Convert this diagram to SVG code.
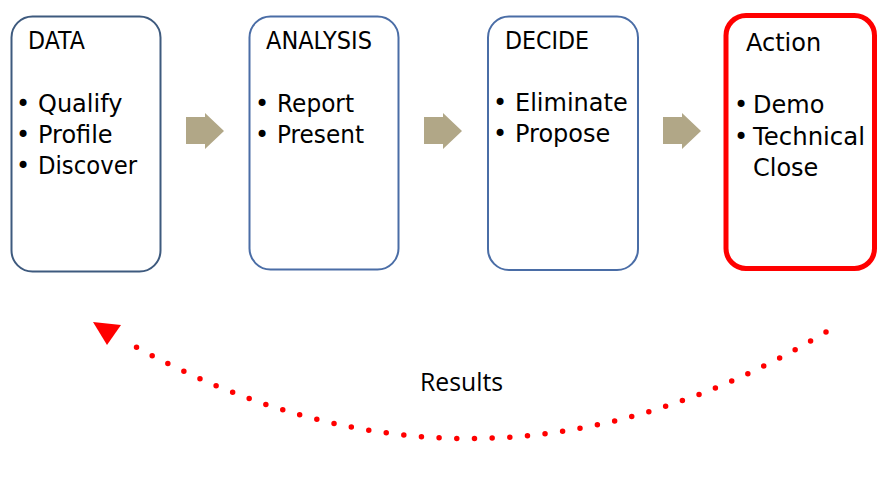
<svg xmlns="http://www.w3.org/2000/svg" width="891" height="493" viewBox="0 0 891 493">
<style>
.box{fill:#fff;stroke:#4a6da6;stroke-width:2}
.t{font-family:"DejaVu Sans","Liberation Sans",sans-serif;font-size:24px;fill:#000}
.b{font-family:"DejaVu Sans","Liberation Sans",sans-serif;font-size:24px;fill:#000;text-anchor:middle}
.step{fill:#b1a787}
</style>
<rect width="891" height="493" fill="#fff"/>
<g id="node-data">
<rect class="box" x="11.5" y="16.5" width="149" height="255" rx="21" style="stroke:#3e5a7e"/>
<text class="t" x="28" y="49" textLength="57" lengthAdjust="spacingAndGlyphs">DATA</text>
<text class="b" x="23" y="112">•</text><text class="t" x="38" y="112">Qualify</text>
<text class="b" x="23" y="143">•</text><text class="t" x="38" y="143">Profile</text>
<text class="b" x="23" y="174">•</text><text class="t" x="38" y="174" textLength="99" lengthAdjust="spacingAndGlyphs">Discover</text>
</g>
<g id="node-analysis">
<rect class="box" x="249.5" y="16.5" width="149" height="253" rx="21"/>
<text class="t" x="266" y="49" textLength="106" lengthAdjust="spacingAndGlyphs">ANALYSIS</text>
<text class="b" x="262" y="112">•</text><text class="t" x="277" y="112" textLength="77" lengthAdjust="spacingAndGlyphs">Report</text>
<text class="b" x="262" y="143">•</text><text class="t" x="277" y="143" textLength="87" lengthAdjust="spacingAndGlyphs">Present</text>
</g>
<g id="node-decide">
<rect class="box" x="488" y="16.5" width="150" height="253.5" rx="21"/>
<text class="t" x="505" y="49" textLength="84" lengthAdjust="spacingAndGlyphs">DECIDE</text>
<text class="b" x="500" y="111">•</text><text class="t" x="515" y="111">Eliminate</text>
<text class="b" x="500" y="142">•</text><text class="t" x="515" y="142">Propose</text>
</g>
<g id="node-action">
<rect x="726" y="15.5" width="148.5" height="253" rx="20" fill="#fff" stroke="#ff0000" stroke-width="5"/>
<text class="t" x="746" y="51">Action</text>
<text class="b" x="741" y="113">•</text><text class="t" x="753" y="113">Demo</text>
<text class="b" x="741" y="145">•</text><text class="t" x="753" y="145" textLength="112" lengthAdjust="spacingAndGlyphs">Technical</text>
<text class="t" x="753" y="176">Close</text>
</g>
<g id="connectors">
<polygon class="step" points="186,117 205,117 205,113 224,131 205,149 205,144 186,144"/>
<polygon class="step" points="424,117 443,117 443,113 462,131 443,149 443,144 424,144"/>
<polygon class="step" points="663,117 682,117 682,113 701,131 682,149 682,144 663,144"/>
<path d="M826,332 Q479,540 127,342" fill="none" stroke="#ff0000" stroke-width="5.5" stroke-linecap="round" stroke-dasharray="0 17.7"/>
<polygon points="93,322 121,325 107,345" fill="#ff0000"/>
<text x="420" y="391" font-family="'Open Sans','Noto Sans',sans-serif" font-size="25" textLength="83" lengthAdjust="spacingAndGlyphs" fill="#000">Results</text>
</g>
</svg>
